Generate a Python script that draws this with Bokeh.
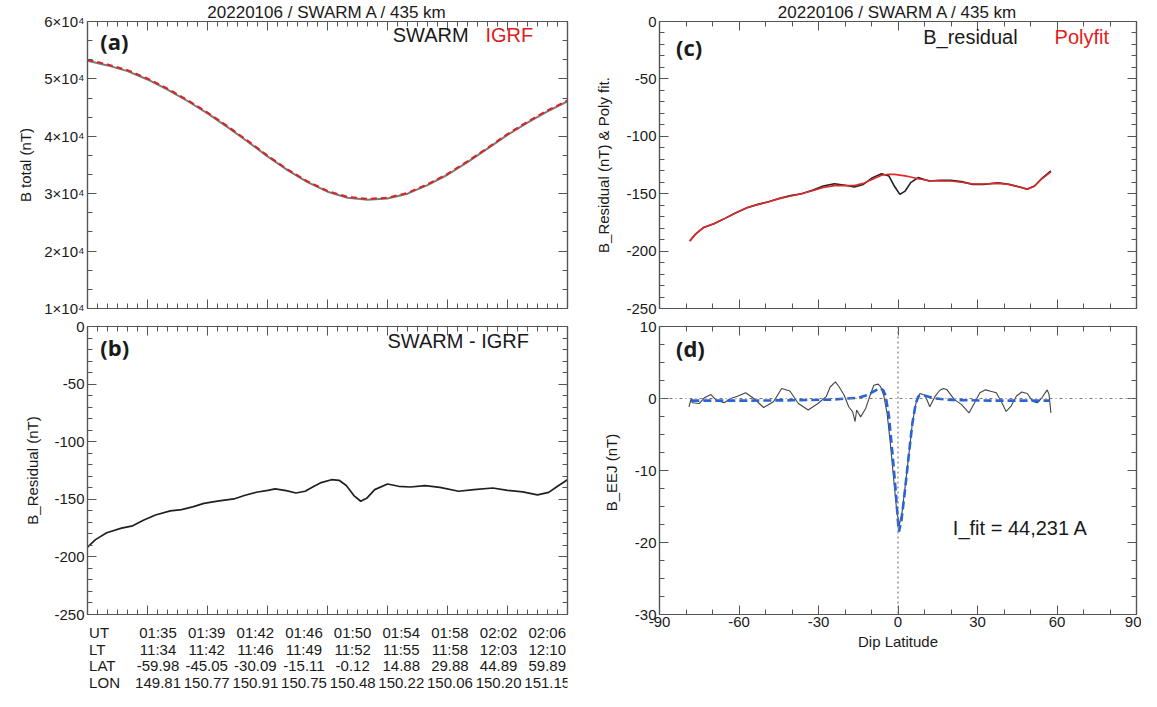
import numpy as np
from bokeh.plotting import figure
from bokeh.layouts import column, row
from bokeh.models import LinearAxis, FixedTicker, Range1d, Label, Span
from bokeh.embed import file_html
from bokeh.resources import INLINE
from bokeh.core.properties import value

TITLE = "20220106 / SWARM A / 435 km"

# ---------------- panel (a): total field vs geographic latitude
lat_a = [-60, -55, -50, -45, -40, -35, -30, -25, -20, -15, -10, -5, 0,
         5, 10, 15, 20, 25, 30, 35, 40, 45, 50, 55, 60]
b_swarm = [53150, 52350, 51350, 49900, 48150, 46150, 44000, 41600, 39100, 36500,
           34100, 32000, 30350, 29300, 28950, 29150, 30000, 31500, 33300, 35500,
           37850, 40250, 42400, 44350, 46100]
b_igrf = [53340, 52530, 51525, 50065, 48310, 46310, 44150, 41750, 39245, 36640,
          34240, 32140, 30485, 29440, 29100, 29285, 30140, 31640, 33440, 35640,
          37990, 40390, 42545, 44495, 46235]

# ---------------- panel (b): residual vs geographic latitude
lat_b = [-60.0, -58.0, -55.2, -51.5, -48.7, -45.9, -43.0, -39.3, -36.5, -33.7,
         -30.9, -27.1, -23.4, -20.6, -17.8, -14.9, -13.1, -10.3, -7.9, -5.6,
         -3.7, -1.8, 1.0, 2.9, 4.7, 6.6, 8.3, 9.9, 11.8, 15.0,
         17.8, 20.7, 24.4, 28.1, 32.8, 36.6, 41.3, 45.0, 48.8, 52.5,
         55.3, 57.7, 60.0]
res_b = [-191.6, -185.0, -179.0, -175.0, -173.0, -168.0, -163.6, -160.0, -159.0, -156.6,
         -153.5, -151.4, -149.7, -146.5, -143.9, -142.2, -141.0, -142.5, -144.5, -143.0,
         -139.3, -135.8, -133.0, -133.5, -138.0, -146.8, -151.7, -148.8, -141.6, -136.7,
         -138.7, -139.3, -138.2, -139.6, -143.0, -141.6, -140.2, -142.2, -143.6, -146.2,
         -144.0, -138.2, -133.0]

# ---------------- panel (c): residual & polynomial fit vs dip latitude
dip_c = [-78.6, -76.3, -73.5, -69.4, -65.3, -61.1, -57.0, -52.9, -48.8, -44.7,
         -40.5, -36.4, -32.3, -28.2, -24.0, -19.9, -16.5, -13.1, -9.6, -6.2,
         -3.4, -1.4, 0.7, 2.7, 4.8, 7.6, 11.7, 15.8, 19.9, 24.0,
         28.2, 32.3, 37.8, 41.9, 46.0, 48.8, 51.5, 54.3, 57.7]
res_c = [-191.3, -184.9, -179.7, -176.2, -171.5, -166.6, -162.2, -159.3, -157.0, -154.0,
         -151.7, -150.0, -147.0, -143.3, -141.3, -142.7, -144.2, -141.9, -136.0, -132.6,
         -134.6, -143.3, -150.6, -147.7, -140.4, -136.0, -139.0, -138.4, -138.4, -139.5,
         -141.9, -141.9, -140.4, -141.9, -144.2, -146.2, -143.3, -136.6, -130.2]
poly_c = [-191.3, -185.0, -179.5, -176.0, -171.5, -166.5, -162.3, -159.5, -157.0, -154.3,
          -152.0, -150.0, -147.5, -144.5, -143.0, -143.0, -142.8, -141.0, -137.5, -134.0,
          -133.0, -133.2, -133.8, -134.5, -135.5, -137.0, -138.5, -138.8, -139.0, -140.0,
          -141.5, -141.5, -141.0, -142.0, -144.3, -146.0, -143.5, -137.0, -131.0]

# ---------------- panel (d): EEJ signal and model fit vs dip latitude
dip_d = [-78.9, -78.0, -77.6, -75.0, -73.1, -70.6, -68.7, -65.6, -63.1, -60.6,
         -57.5, -54.4, -50.7, -47.0, -43.9, -40.8, -37.6, -33.9, -30.2, -27.1,
         -25.6, -23.6, -22.2, -20.3, -18.6, -17.1, -16.2, -15.6, -14.1, -12.2,
         -10.3, -9.1, -7.5, -6.5, -5.4, -4.1, -2.9, -1.6, -0.4, 0.5,
         1.5, 2.7, 4.0, 5.4, 7.1, 8.3, 10.2, 12.0, 13.9, 15.8,
         17.2, 18.5, 21.3, 24.0, 26.8, 28.9, 30.9, 33.0, 35.0, 37.1,
         39.2, 40.8, 42.6, 44.7, 46.7, 48.8, 50.8, 52.6, 54.3, 56.3,
         57.0, 57.7]
eej_d = [-1.15, 0.0, -0.6, -0.7, 0.1, 0.55, -0.2, -0.6, 0.0, 0.3,
         0.8, 0.0, -1.25, -0.45, 1.4, 1.05, -0.7, -1.6, -0.7, 0.25,
         1.6, 2.3, 1.6, 0.45, -1.15, -1.85, -3.2, -1.6, -2.55, -1.4,
         0.7, 1.85, 2.0, 1.6, 0.45, -2.1, -6.2, -11.3, -15.9, -17.55,
         -15.9, -12.2, -8.1, -3.5, 0.0, 0.7, 0.45, -1.15, 0.25, 1.15,
         1.4, 1.2, -0.15, -0.85, -2.0, -0.6, 0.8, 1.2, 1.0, 0.8,
         -0.6, -1.8, -1.1, 0.35, 0.9, 0.7, -0.4, -0.6, 0.1, 1.2,
         0.55, -2.0]
dip_fit = [-78.0, -60.0, -40.0, -25.0, -15.0, -11.0, -9.6, -8.0, -6.6, -5.5,
           -4.7, -3.4, -2.2, -0.9, 0.1, 0.35, 1.3, 2.5, 4.0, 5.4,
           6.7, 7.7, 9.6, 13.9, 20.0, 35.0, 57.0]
eej_fit = [-0.3, -0.3, -0.25, -0.15, 0.1, 0.55, 0.9, 1.2, 1.4, 1.1,
           0.45, -2.5, -7.2, -12.7, -17.6, -18.5, -16.9, -13.2, -8.1, -3.5,
           -0.7, 0.3, 0.45, 0.0, -0.2, -0.3, -0.3]
ifit_text = "I_fit = 44,231 A"

# ---------------- orbit table under panel (b)
row_names = ["UT", "LT", "LAT", "LON"]
lat_ticks = [-60, -45, -30, -15, 0, 15, 30, 45, 60]
ut_labels = ["01:35", "01:39", "01:42", "01:46", "01:50", "01:54", "01:58", "02:02", "02:06"]
lt_labels = ["11:34", "11:42", "11:46", "11:49", "11:52", "11:55", "11:58", "12:03", "12:10"]
lat_labels = ["-59.98", "-45.05", "-30.09", "-15.11", "-0.12", "14.88", "29.88", "44.89", "59.89"]
lon_labels = ["149.81", "150.77", "150.91", "150.75", "150.48", "150.22", "150.06", "150.20", "151.15"]

btot_ticks = [10000, 20000, 30000, 40000, 50000, 60000]
btot_labels = ["1×10⁴", "2×10⁴", "3×10⁴", "4×10⁴", "5×10⁴", "6×10⁴"]
res_ticks = [-250, -200, -150, -100, -50, 0]
dip_ticks = [-90, -60, -30, 0, 30, 60, 90]
eej_ticks = [-30, -20, -10, 0, 10]

FONT = "Liberation Sans"
AX = "#555555"
TXT = "#1a1a1a"


def style_axis(ax, ticks, labels=True, font_size="15px", standoff=3):
    ax.axis_line_color = AX
    ax.axis_line_width = 1.2
    ax.major_tick_line_color = AX
    ax.minor_tick_line_color = AX
    ax.major_tick_in = 9
    ax.major_tick_out = 0
    ax.minor_tick_in = 5
    ax.minor_tick_out = 0
    ax.major_label_text_font = FONT
    ax.major_label_text_color = TXT
    ax.axis_label_text_font = FONT
    ax.axis_label_text_font_style = "normal"
    ax.axis_label_text_font_size = "15px"
    ax.axis_label_text_color = TXT
    # plain ASCII hyphen for negative values, as in the original
    ax.major_label_overrides = {t: str(t) for t in ticks}
    if labels:
        ax.major_label_text_font_size = font_size
        ax.major_label_standoff = standoff
    else:
        # mirrored tick-only axis: labels hidden
        ax.major_label_text_font_size = "0px"
        ax.major_label_standoff = 0


def make_fig(width, height, xr, yr, borders, xticks, yticks,
             xlabels=False, ylabel=None, xlabel=None, title=None,
             ylabel_standoff=5, ylabel_overrides=None):
    bl, br, bt, bb = borders
    xticker, xt = xticks
    yticker, yt = yticks
    p = figure(width=width, height=height, x_range=Range1d(*xr), y_range=Range1d(*yr),
               output_backend="svg", toolbar_location=None,
               min_border_left=bl, min_border_right=br,
               min_border_top=bt, min_border_bottom=bb)
    p.grid.visible = False
    p.outline_line_color = AX
    p.outline_line_width = 1.2
    p.background_fill_color = "white"
    p.border_fill_color = "white"
    xa = p.xaxis[0]
    ya = p.yaxis[0]
    xa.ticker = xticker
    ya.ticker = yticker
    style_axis(xa, xt, labels=xlabels, standoff=2)
    style_axis(ya, yt, labels=True, standoff=3)
    if ylabel_overrides:
        ya.major_label_overrides = ylabel_overrides
    if ylabel:
        ya.axis_label = ylabel
        ya.axis_label_standoff = ylabel_standoff
    if xlabel:
        xa.axis_label = xlabel
        xa.axis_label_standoff = 3
    top = LinearAxis(ticker=xticker)
    style_axis(top, xt, labels=False)
    p.add_layout(top, "above")
    right = LinearAxis(ticker=yticker)
    style_axis(right, yt, labels=False)
    p.add_layout(right, "right")
    if title:
        p.title.text = title
        p.title.align = "center"
        p.title.text_font = FONT
        p.title.text_font_size = "17px"
        p.title.text_font_style = "normal"
        p.title.text_color = TXT
        p.title.standoff = 0
    return p


def add_text(p, x, y, text, color=TXT, size="20px", font=FONT, bold=False):
    p.add_layout(Label(x=x, y=y, text=text, text_color=color, text_font=font,
                       text_font_size=size, text_font_style="bold" if bold else "normal",
                       text_baseline="middle", text_align="left"))


lat_tick = (FixedTicker(ticks=lat_ticks, minor_ticks=list(np.arange(-60, 60.1, 2.5))), lat_ticks)
dip_tick = (FixedTicker(ticks=dip_ticks, minor_ticks=list(np.arange(-90, 90.1, 10))), dip_ticks)
btot_tick = (FixedTicker(ticks=btot_ticks, minor_ticks=list(np.arange(10000, 60001, 10000 / 3))), btot_ticks)
res_tick = (FixedTicker(ticks=res_ticks, minor_ticks=list(np.arange(-250, 0.1, 10))), res_ticks)
eej_tick = (FixedTicker(ticks=eej_ticks, minor_ticks=list(np.arange(-30, 10.1, 2.5))), eej_ticks)

LW, RW = 592, 549

# ---- (a)
pa = make_fig(LW, 317, (-60, 60), (10000, 60000), (87, 25, 20, 9),
              lat_tick, btot_tick, ylabel="B total (nT)", title=TITLE,
              ylabel_standoff=7,
              ylabel_overrides={t: s for t, s in zip(btot_ticks, btot_labels)})
pa.line(lat_a, b_swarm, line_color="#7a7a7a", line_width=2)
pa.line(lat_a, b_igrf, line_color="#dd2222", line_width=2, line_dash="6 4")
add_text(pa, -56.8, 56600, "(a)", size="22px", font="Open Sans", bold=True)
add_text(pa, 16.3, 57600, "SWARM")
add_text(pa, 39.5, 57600, "IGRF", color="#e02020")

# ---- (b)
pb = make_fig(LW, 306, (-60, 60), (-250, 0), (87, 25, 9, 9),
              lat_tick, res_tick, ylabel="B_Residual (nT)", ylabel_standoff=10)
pb.line(lat_b, res_b, line_color="#202020", line_width=1.7)
add_text(pb, -56.8, -18.0, "(b)", size="22px", font="Open Sans", bold=True)
add_text(pb, 15.0, -12.5, "SWARM - IGRF")

# ---- table (columns centred on the latitude ticks of panel b)
pt = figure(width=LW, height=68, x_range=Range1d(-81.75, 66.25), y_range=Range1d(0, 68),
            output_backend="svg", toolbar_location=None, min_border=0,
            x_axis_location=None, y_axis_location=None)
pt.grid.visible = False
pt.outline_line_color = None
row_y = [59.3, 42.5, 25.7, 9.0]
for yy, name, labs in zip(row_y, row_names, [ut_labels, lt_labels, lat_labels, lon_labels]):
    pt.text(x=[-81.25], y=[yy], text=[name], text_align="left", text_baseline="middle",
            text_font=value(FONT), text_font_size="15px", text_color=TXT)
    pt.text(x=lat_ticks, y=[yy] * len(lat_ticks), text=labs, text_align="center",
            text_baseline="middle", text_font=value(FONT), text_font_size="15px",
            text_color=TXT)

# ---- (c)
pc = make_fig(RW, 317, (-90, 90), (-250, 0), (61, 5, 20, 9),
              dip_tick, res_tick, ylabel="B_Residual (nT) & Poly fit.", title=TITLE,
              ylabel_standoff=11)
pc.line(dip_c, res_c, line_color="#202020", line_width=1.6)
pc.line(dip_c, poly_c, line_color="#e02a2a", line_width=1.6)
add_text(pc, -83.8, -22.6, "(c)", size="22px", font="Open Sans", bold=True)
add_text(pc, 9.5, -13.3, "B_residual")
add_text(pc, 59.1, -13.3, "Polyfit", color="#e02020")

# ---- (d)
pd = make_fig(RW, 374, (-90, 90), (-30, 10), (61, 5, 9, 77),
              dip_tick, eej_tick, xlabels=True, ylabel="B_EEJ  (nT)",
              xlabel="Dip Latitude", ylabel_standoff=12)
pd.add_layout(Span(location=0, dimension="width", line_color="#777777",
                   line_width=1.2, line_dash="3 3 1 3"))
pd.add_layout(Span(location=0, dimension="height", line_color="#777777",
                   line_width=1.2, line_dash="2 3"))
pd.line(dip_d, eej_d, line_color="#444444", line_width=1.1)
pd.line(dip_fit, eej_fit, line_color="#2a62d8", line_width=2.6, line_dash="8 4")
add_text(pd, -83.8, 7.0, "(d)", size="22px", font="Open Sans", bold=True)
add_text(pd, 20.7, -17.96, ifit_text)

layout = row(column(pa, pb, pt), column(pc, pd))

open("out.html", "w").write(file_html(layout, INLINE))
